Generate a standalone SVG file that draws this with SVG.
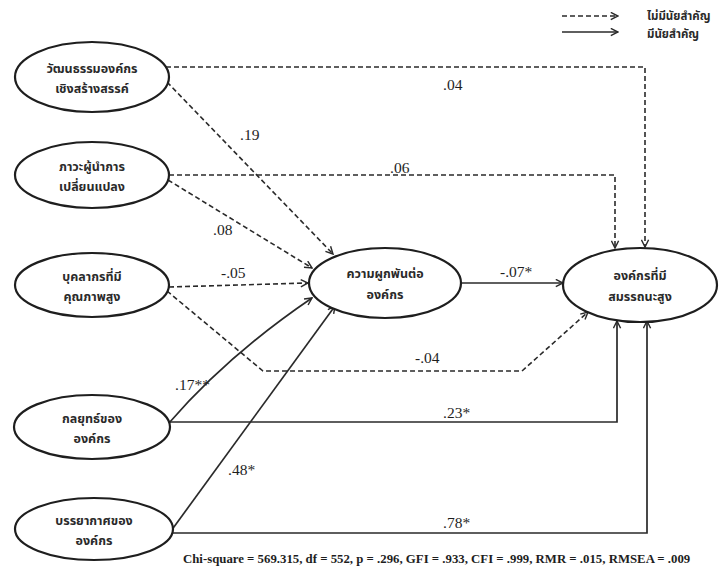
<svg xmlns="http://www.w3.org/2000/svg" width="720" height="578" viewBox="0 0 720 578">
<style>
.bg{fill:#fff}
.node ellipse{fill:#fff;stroke:#1e1e1e;stroke-width:2.2}
.th{font-family:"Noto Sans Thai","Noto Sans","DejaVu Sans",sans-serif;font-size:12.5px;font-weight:bold;fill:#2a2a2a;text-anchor:middle}
.lg{font-family:"Noto Sans Thai","Noto Sans","DejaVu Sans",sans-serif;font-size:11.5px;font-weight:bold;fill:#2a2a2a}
.lbl{font-family:"Liberation Serif","Times New Roman",serif;font-size:15.5px;fill:#1e1e1e}
.fit{font-family:"Liberation Serif","Times New Roman",serif;font-size:12.8px;font-weight:bold;fill:#1e1e1e}
.dash{fill:none;stroke:#2a2a2a;stroke-width:1.6;stroke-dasharray:5 3;marker-end:url(#ah)}
.sol{fill:none;stroke:#2a2a2a;stroke-width:1.7;marker-end:url(#ah)}
</style>
<defs>
<marker id="ah" viewBox="0 0 10 10" refX="9" refY="5" markerWidth="9" markerHeight="9" markerUnits="userSpaceOnUse" orient="auto">
<path d="M1,1 L9,5 L1,9" fill="none" stroke="#2a2a2a" stroke-width="1.6" stroke-dasharray="none"/>
</marker>
</defs>
<rect class="bg" x="0" y="0" width="720" height="578"/>

<g id="legend">
<path class="dash" d="M562,16 L618,16"/>
<path class="sol" d="M562,32 L618,32"/>
<text class="lg" x="647" y="20">ไม่มีนัยสำคัญ</text>
<text class="lg" x="647" y="38">มีนัยสำคัญ</text>
</g>

<g id="connectors">
<path class="dash" d="M166,67 L645,67 L645,247"/>
<path class="dash" d="M167,82 L333,254"/>
<path class="dash" d="M169,175 L615,175 L615,248"/>
<path class="dash" d="M168,180 L312,268"/>
<path class="dash" d="M169,287 L308,283"/>
<path class="dash" d="M167,291 L263,371 L522,371 L588,312"/>
<path class="sol" d="M460,283 L563,283"/>
<path class="sol" d="M169,423 Q228,355 312,298"/>
<path class="sol" d="M169,422 L617,422 L617,321"/>
<path class="sol" d="M171,531 L335,306"/>
<path class="sol" d="M171,533 L647,533 L647,321"/>
</g>

<g id="labels">
<text class="lbl" x="443" y="90">.04</text>
<text class="lbl" x="240" y="140">.19</text>
<text class="lbl" x="390" y="173">.06</text>
<text class="lbl" x="213" y="235">.08</text>
<text class="lbl" x="221" y="278">-.05</text>
<text class="lbl" x="500" y="277">-.07*</text>
<text class="lbl" x="415" y="363">-.04</text>
<text class="lbl" x="175" y="390">.17**</text>
<text class="lbl" x="443" y="418">.23*</text>
<text class="lbl" x="228" y="475">.48*</text>
<text class="lbl" x="443" y="528">.78*</text>
</g>

<g id="n1" class="node">
<ellipse cx="92" cy="77" rx="77" ry="35"/>
<text class="th" x="92" y="73">วัฒนธรรมองค์กร</text>
<text class="th" x="92" y="93">เชิงสร้างสรรค์</text>
</g>
<g id="n2" class="node">
<ellipse cx="92" cy="175" rx="77" ry="33"/>
<text class="th" x="92" y="171">ภาวะผู้นำการ</text>
<text class="th" x="92" y="191">เปลี่ยนแปลง</text>
</g>
<g id="n3" class="node">
<ellipse cx="92" cy="285" rx="77" ry="32"/>
<text class="th" x="92" y="281">บุคลากรที่มี</text>
<text class="th" x="92" y="301">คุณภาพสูง</text>
</g>
<g id="n4" class="node">
<ellipse cx="92" cy="427" rx="78" ry="32"/>
<text class="th" x="92" y="423">กลยุทธ์ของ</text>
<text class="th" x="92" y="443">องค์กร</text>
</g>
<g id="n5" class="node">
<ellipse cx="94" cy="529" rx="79" ry="31"/>
<text class="th" x="94" y="525">บรรยากาศของ</text>
<text class="th" x="94" y="545">องค์กร</text>
</g>
<g id="n6" class="node">
<ellipse cx="385" cy="283" rx="76" ry="35"/>
<text class="th" x="385" y="278">ความผูกพันต่อ</text>
<text class="th" x="385" y="299">องค์กร</text>
</g>
<g id="n7" class="node">
<ellipse cx="640" cy="285" rx="77" ry="37"/>
<text class="th" x="640" y="280">องค์กรที่มี</text>
<text class="th" x="640" y="301">สมรรถนะสูง</text>
</g>

<text class="fit" x="183" y="563">Chi-square = 569.315, df = 552, p = .296, GFI = .933, CFI = .999, RMR = .015, RMSEA = .009</text>
</svg>
